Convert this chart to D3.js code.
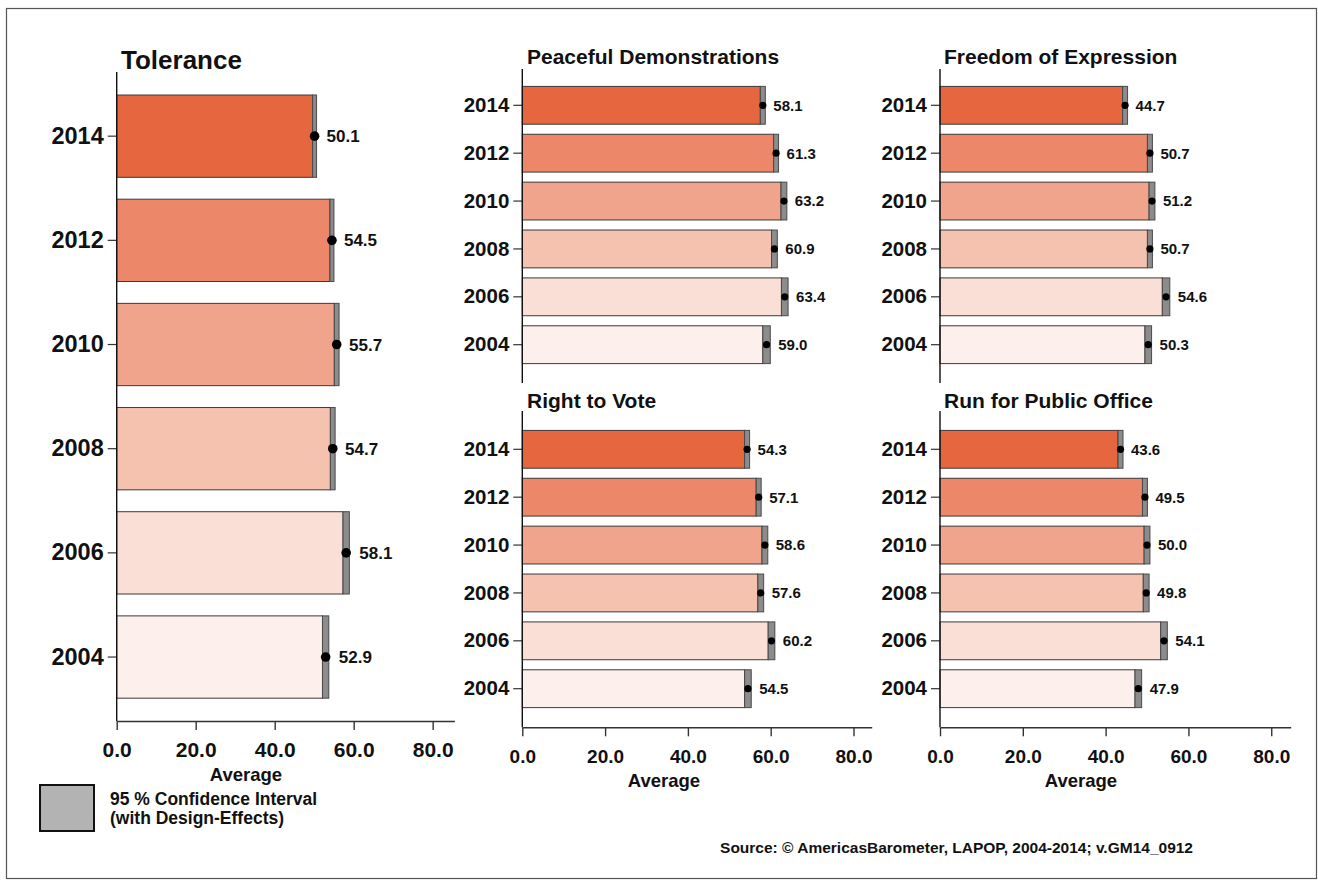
<!DOCTYPE html>
<html>
<head>
<meta charset="utf-8">
<script src="https://cdn.jsdelivr.net/npm/d3@7"></script>
<style>
  html, body { margin: 0; padding: 0; background: #fff; }
  svg { display: block; font-family: "Liberation Sans", Arial, Helvetica, sans-serif; font-weight: bold; }
</style>
</head>
<body>
<svg id="chart" width="1318" height="888"></svg>
<script>
// ---- data ----
const years = ["2014", "2012", "2010", "2008", "2006", "2004"];
const yearColors = ["#e6673f", "#ec876a", "#f0a48b", "#f5c2b0", "#fadfd6", "#fdefeb"];
const xTicks = [0, 20, 40, 60, 80];

const tolerance   = [50.1, 54.5, 55.7, 54.7, 58.1, 52.9];
const toleranceCI = [0.5, 0.5, 0.6, 0.6, 0.8, 0.8];

const peaceful    = [58.1, 61.3, 63.2, 60.9, 63.4, 59.0];
const peacefulCI  = [0.6, 0.6, 0.7, 0.7, 0.8, 0.9];

const expression   = [44.7, 50.7, 51.2, 50.7, 54.6, 50.3];
const expressionCI = [0.6, 0.6, 0.7, 0.6, 0.9, 0.8];

const vote   = [54.3, 57.1, 58.6, 57.6, 60.2, 54.5];
const voteCI = [0.6, 0.6, 0.7, 0.7, 0.8, 0.8];

const office   = [43.6, 49.5, 50.0, 49.8, 54.1, 47.9];
const officeCI = [0.6, 0.6, 0.7, 0.7, 0.8, 0.8];

const titles = ["Tolerance", "Peaceful Demonstrations", "Freedom of Expression", "Right to Vote", "Run for Public Office"];
const axisTitle = "Average";
const legendLines = ["95 % Confidence Interval", "(with Design-Effects)"];
const sourceText = "Source: \u00A9 AmericasBarometer, LAPOP, 2004-2014; v.GM14_0912";

// ---- layout ----
const big = {yearFont: 23.5, valFont: 17, tickFont: 21, titleFont: 26, dotR: 4.8, valGap: 10};
const small = {yearFont: 20.5, valFont: 15, tickFont: 19, titleFont: 21, dotR: 3.6, valGap: 8};

const panels = [
  {title: titles[0], values: tolerance, ci: toleranceCI, x0: 116.7, x1: 454.4, xMax: 85.5,
   axTop: 72, axBottom: 721, band: [84.6, 708.6], xAxis: true, titleX: 121, titleY: 69, avgX: 246, st: big},
  {title: titles[1], values: peaceful, ci: peacefulCI, x0: 522.3, x1: 871.7, xMax: 84.4,
   axTop: 69, axBottom: 383, band: [81.6, 368.4], xAxis: false, titleX: 527, titleY: 64, st: small},
  {title: titles[2], values: expression, ci: expressionCI, x0: 940, x1: 1290.7, xMax: 84.7,
   axTop: 69, axBottom: 383, band: [81.6, 368.4], xAxis: false, titleX: 944, titleY: 64, st: small},
  {title: titles[3], values: vote, ci: voteCI, x0: 522.3, x1: 871.7, xMax: 84.4,
   axTop: 411, axBottom: 727.3, band: [425.6, 712.4], xAxis: true, titleX: 527, titleY: 408, avgX: 664, st: small},
  {title: titles[4], values: office, ci: officeCI, x0: 940, x1: 1290.7, xMax: 84.7,
   axTop: 411, axBottom: 727.3, band: [425.6, 712.4], xAxis: true, titleX: 944, titleY: 408, avgX: 1081, st: small}
];

const svg = d3.select("#chart");

// outer frame
svg.append("rect").attr("x", 6.5).attr("y", 8.5).attr("width", 1310).attr("height", 870)
  .attr("fill", "none").attr("stroke", "#555").attr("stroke-width", 1.2);

const fmt = d3.format(".1f");

panels.forEach(p => {
  const x = d3.scaleLinear().domain([0, p.xMax]).range([p.x0, p.x1]);
  const y = d3.scaleBand().domain(years).range(p.band).paddingInner(0.21).paddingOuter(0.1);
  const g = svg.append("g");
  const rows = years.map((yr, i) => ({yr, v: p.values[i], ci: p.ci[i], color: yearColors[i]}));

  // bars up to lower CI
  g.selectAll("rect.bar").data(rows).join("rect").attr("class", "bar")
    .attr("x", x(0)).attr("y", d => y(d.yr))
    .attr("width", d => x(d.v - d.ci) - x(0)).attr("height", y.bandwidth())
    .attr("fill", d => d.color).attr("stroke", "#3a3a3a").attr("stroke-width", 1);

  // CI rectangles
  g.selectAll("rect.ci").data(rows).join("rect").attr("class", "ci")
    .attr("x", d => x(d.v - d.ci)).attr("y", d => y(d.yr))
    .attr("width", d => x(d.v + d.ci) - x(d.v - d.ci)).attr("height", y.bandwidth())
    .attr("fill", "#8c8c8c").attr("stroke", "#4a4a4a").attr("stroke-width", 1);

  // mean dots
  g.selectAll("circle").data(rows).join("circle")
    .attr("cx", d => x(d.v)).attr("cy", d => y(d.yr) + y.bandwidth() / 2)
    .attr("r", p.st.dotR).attr("fill", "#000");

  // value labels
  g.selectAll("text.val").data(rows).join("text").attr("class", "val")
    .attr("x", d => x(d.v + d.ci) + p.st.valGap).attr("y", d => y(d.yr) + y.bandwidth() / 2)
    .attr("dy", "0.36em").attr("font-size", p.st.valFont).attr("fill", "#111")
    .text(d => fmt(d.v));

  // y axis
  const yAxisG = g.append("g").attr("transform", `translate(${p.x0},0)`)
    .call(d3.axisLeft(y).tickSize(9).tickPadding(4));
  yAxisG.select(".domain").remove();
  yAxisG.selectAll(".tick line").attr("stroke", "#333").attr("stroke-width", 1.2);
  yAxisG.selectAll(".tick text").attr("font-size", p.st.yearFont).attr("font-family", null)
    .attr("fill", "#111");
  g.append("line").attr("x1", p.x0).attr("x2", p.x0).attr("y1", p.axTop).attr("y2", p.axBottom)
    .attr("stroke", "#111").attr("stroke-width", 1.4);

  // x axis
  if (p.xAxis) {
    const xAxisG = g.append("g").attr("transform", `translate(0,${p.axBottom})`)
      .call(d3.axisBottom(x).tickValues(xTicks).tickFormat(fmt).tickSize(9).tickPadding(6).tickSizeOuter(0));
    xAxisG.select(".domain").attr("stroke", "#333").attr("stroke-width", 1.4);
    xAxisG.selectAll(".tick line").attr("stroke", "#333").attr("stroke-width", 1.4);
    xAxisG.selectAll(".tick text").attr("font-size", p.st.tickFont).attr("font-family", null)
      .attr("fill", "#111").attr("y", 0).attr("dy", 0).attr("transform", `translate(0,36)`);
    g.append("text").attr("x", p.avgX).attr("y", p.axBottom + 60).attr("text-anchor", "middle")
      .attr("font-size", 18.5).attr("fill", "#111").text(axisTitle);
  }

  // title
  g.append("text").attr("x", p.titleX).attr("y", p.titleY).attr("font-size", p.st.titleFont)
    .attr("fill", "#111").text(p.title);
});

// legend
svg.append("rect").attr("x", 40).attr("y", 785).attr("width", 54).attr("height", 46)
  .attr("fill", "#b3b3b3").attr("stroke", "#111").attr("stroke-width", 2);
svg.append("text").attr("x", 110).attr("y", 805).attr("font-size", 17.5).attr("fill", "#111").text(legendLines[0]);
svg.append("text").attr("x", 110).attr("y", 824).attr("font-size", 17.5).attr("fill", "#111").text(legendLines[1]);

// source
svg.append("text").attr("x", 1193).attr("y", 853).attr("text-anchor", "end")
  .attr("font-size", 15.5).attr("fill", "#111").text(sourceText);
</script>
</body>
</html>
